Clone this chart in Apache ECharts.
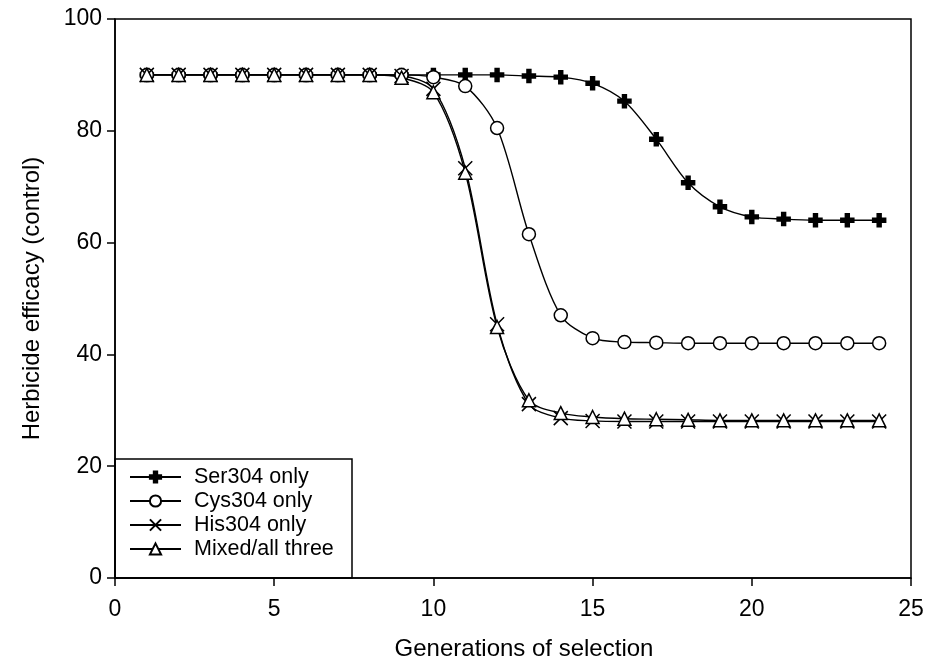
<!DOCTYPE html>
<html>
<head>
<meta charset="utf-8">
<script src="https://cdn.jsdelivr.net/npm/echarts@6/dist/echarts.min.js"></script>
<style>
  html, body { margin: 0; padding: 0; background: #fff; }
  #chart { width: 938px; height: 671px; }
</style>
</head>
<body>
<div id="chart"></div>
<script>
// generations (x axis)
var generations = [1, 2, 3, 4, 5, 6, 7, 8, 9, 10, 11, 12, 13, 14, 15, 16, 17, 18, 19, 20, 21, 22, 23, 24];

// herbicide efficacy per genotype
var ser304 = [90, 90, 90, 90, 90, 90, 90, 90, 90, 90, 90, 90, 89.8, 89.6, 88.5, 85.3, 78.5, 70.7, 66.4, 64.6, 64.2, 64.0, 64.0, 64.0];
var cys304 = [90, 90, 90, 90, 90, 90, 90, 90, 90, 89.6, 88.0, 80.5, 61.5, 47.0, 42.9, 42.2, 42.1, 42.0, 42.0, 42.0, 42.0, 42.0, 42.0, 42.0];
var his304 = [90, 90, 90, 90, 90, 90, 90, 90, 89.8, 87.5, 73.3, 45.4, 31.1, 28.6, 28.1, 28.0, 28.0, 28.0, 28.0, 28.0, 28.0, 28.0, 28.0, 28.0];
var mixed = [90, 90, 90, 90, 90, 90, 90, 90, 89.5, 86.9, 72.5, 44.9, 31.8, 29.5, 28.8, 28.5, 28.4, 28.3, 28.2, 28.2, 28.2, 28.2, 28.2, 28.2];

var seriesNames = ['Ser304 only', 'Cys304 only', 'His304 only', 'Mixed/all three'];
var xTicks = [0, 25, 5];   // min, max, interval
var yTicks = [0, 100, 20];

var font = 'Liberation Sans, Arial, sans-serif';

function pairs(vals) {
    return generations.map(function (g, i) { return [g, vals[i]]; });
}

function makeSeries(name, vals, symbol, size, fill) {
    return {
        name: name,
        type: 'line',
        data: pairs(vals),
        smooth: 0.3,
        symbol: symbol,
        symbolSize: size,
        showSymbol: true,
        lineStyle: { color: '#000', width: 1.4 },
        itemStyle: { color: fill, borderColor: '#000', borderWidth: 1.5 },
        emphasis: { disabled: true }
    };
}

var myChart = echarts.init(document.getElementById('chart'));

var option = {
    animation: false,
    backgroundColor: '#fff',
    grid: {
        left: 115, right: 27, top: 19, bottom: 93,
        show: true, borderColor: '#000', borderWidth: 1.5
    },
    xAxis: {
        type: 'value',
        min: xTicks[0], max: xTicks[1], interval: xTicks[2],
        name: 'Generations of selection',
        nameLocation: 'middle',
        nameGap: 59,
        nameTextStyle: { fontFamily: font, fontSize: 24, color: '#000', padding: [0, 0, 0, 22] },
        axisLine: { show: true, lineStyle: { color: '#000', width: 1.5 } },
        axisTick: { show: true, length: 8, lineStyle: { color: '#000', width: 1.5 } },
        axisLabel: { margin: 20, fontFamily: font, fontSize: 23, color: '#000' },
        splitLine: { show: false }
    },
    yAxis: {
        type: 'value',
        min: yTicks[0], max: yTicks[1], interval: yTicks[2],
        name: 'Herbicide efficacy (control)',
        nameLocation: 'middle',
        nameGap: 71,
        nameTextStyle: { fontFamily: font, fontSize: 24, color: '#000' },
        axisLine: { show: true, lineStyle: { color: '#000', width: 1.5 } },
        axisTick: { show: true, length: 8, lineStyle: { color: '#000', width: 1.5 } },
        axisLabel: { margin: 13, fontFamily: font, fontSize: 23, color: '#000' },
        splitLine: { show: false }
    },
    legend: {
        orient: 'vertical',
        left: 129,
        top: 466,
        padding: 0,
        itemWidth: 51,
        itemHeight: 14,
        itemGap: 2,
        data: seriesNames,
        textStyle: { fontFamily: font, fontSize: 21.5, color: '#000', lineHeight: 22, padding: [0, 0, 0, 8] },
        selectedMode: false
    },
    graphic: [{
        type: 'rect',
        shape: { x: 115, y: 459, width: 237, height: 119 },
        style: { fill: 'none', stroke: '#000', lineWidth: 1.5 },
        z: 100
    }],
    series: [
        makeSeries(seriesNames[0], ser304, 'path://M35,0H65V35H100V65H65V100H35V65H0V35H35Z', 13, '#000'),
        makeSeries(seriesNames[1], cys304, 'circle', 13, '#fff'),
        makeSeries(seriesNames[2], his304, 'path://M0,0L100,100M100,0L0,100', 14, 'none'),
        makeSeries(seriesNames[3], mixed, 'triangle', 13, '#fff')
    ]
};

myChart.setOption(option);
</script>
</body>
</html>
